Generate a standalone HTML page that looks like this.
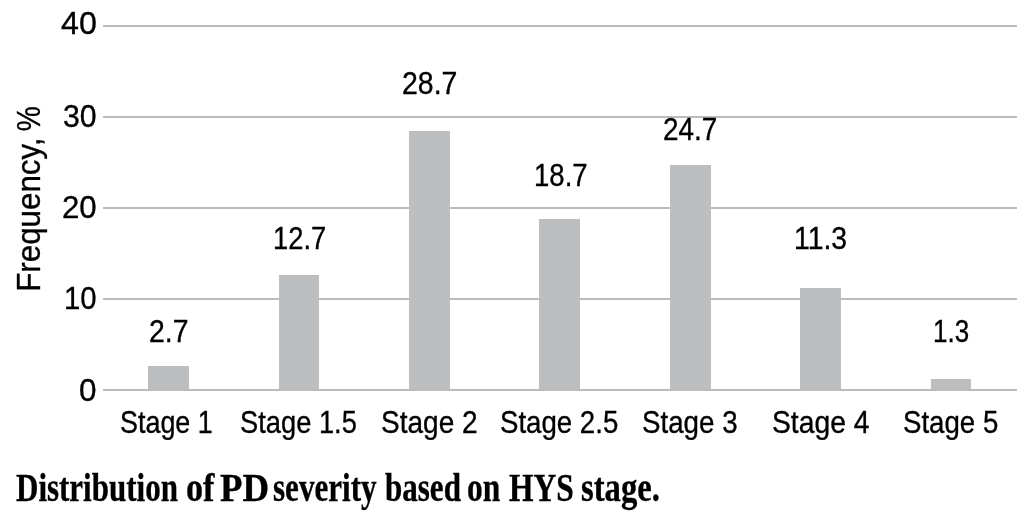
<!DOCTYPE html>
<html><head><meta charset="utf-8"><style>
html,body{margin:0;padding:0;background:#fff;width:1030px;height:518px;overflow:hidden;position:relative}
.t{position:absolute;line-height:1;white-space:nowrap;color:#000;transform-origin:0 0;-webkit-font-smoothing:antialiased;-webkit-text-stroke:0.35px #000}
#w{position:absolute;left:0;top:0;width:1030px;height:518px;background:#fff}
#tx{position:absolute;left:0;top:0;width:1030px;height:518px;filter:grayscale(1)}
.g{position:absolute;left:103px;width:914px;height:2px;background:#bbbbbb}
.bar{position:absolute;background:#bdbec0}
</style></head><body><div id="w">
<div class="g" style="top:25px"></div><div class="g" style="top:116px"></div><div class="g" style="top:207px"></div><div class="g" style="top:298px"></div><div class="g" style="top:389px"></div>
<div class="bar" style="left:148px;top:366px;width:41px;height:23px"></div><div class="bar" style="left:279px;top:275px;width:40px;height:114px"></div><div class="bar" style="left:409px;top:131px;width:41px;height:258px"></div><div class="bar" style="left:539px;top:219px;width:41px;height:170px"></div><div class="bar" style="left:670px;top:165px;width:41px;height:224px"></div><div class="bar" style="left:800px;top:288px;width:41px;height:101px"></div><div class="bar" style="left:931px;top:379px;width:40px;height:10px"></div>
<div id="tx"><div class="t" style="left:60.86px;top:8.00px;font-family:'Liberation Sans',sans-serif;font-weight:normal;font-size:31px;transform:scale(1.0375,1.0000);">40</div><div class="t" style="left:62.92px;top:101.00px;font-family:'Liberation Sans',sans-serif;font-weight:normal;font-size:31px;transform:scale(0.9750,1.0000);">30</div><div class="t" style="left:61.89px;top:192.00px;font-family:'Liberation Sans',sans-serif;font-weight:normal;font-size:31px;transform:scale(1.0065,1.0000);">20</div><div class="t" style="left:63.91px;top:283.00px;font-family:'Liberation Sans',sans-serif;font-weight:normal;font-size:31px;transform:scale(0.9452,1.0000);">10</div><div class="t" style="left:78.89px;top:375.00px;font-family:'Liberation Sans',sans-serif;font-weight:normal;font-size:31px;transform:scale(1.0133,1.0000);">0</div><div class="t" style="left:119.91px;top:406.57px;font-family:'Liberation Sans',sans-serif;font-weight:normal;font-size:30px;transform:scale(0.8970,1.0269);">Stage 1</div><div class="t" style="left:240.18px;top:406.57px;font-family:'Liberation Sans',sans-serif;font-weight:normal;font-size:30px;transform:scale(0.9096,1.0269);">Stage 1.5</div><div class="t" style="left:380.73px;top:406.57px;font-family:'Liberation Sans',sans-serif;font-weight:normal;font-size:30px;transform:scale(0.9340,1.0269);">Stage 2</div><div class="t" style="left:500.16px;top:406.57px;font-family:'Liberation Sans',sans-serif;font-weight:normal;font-size:30px;transform:scale(0.9208,1.0269);">Stage 2.5</div><div class="t" style="left:641.75px;top:406.57px;font-family:'Liberation Sans',sans-serif;font-weight:normal;font-size:30px;transform:scale(0.9240,1.0269);">Stage 3</div><div class="t" style="left:771.71px;top:406.57px;font-family:'Liberation Sans',sans-serif;font-weight:normal;font-size:30px;transform:scale(0.9426,1.0269);">Stage 4</div><div class="t" style="left:903.06px;top:406.57px;font-family:'Liberation Sans',sans-serif;font-weight:normal;font-size:30px;transform:scale(0.9210,1.0269);">Stage 5</div><div class="t" style="left:149.05px;top:315.50px;font-family:'Liberation Sans',sans-serif;font-weight:normal;font-size:30px;transform:scale(0.9462,1.0200);">2.7</div><div class="t" style="left:272.98px;top:222.50px;font-family:'Liberation Sans',sans-serif;font-weight:normal;font-size:30px;transform:scale(0.9109,1.0200);">12.7</div><div class="t" style="left:402.05px;top:67.50px;font-family:'Liberation Sans',sans-serif;font-weight:normal;font-size:30px;transform:scale(0.9482,1.0200);">28.7</div><div class="t" style="left:533.66px;top:159.50px;font-family:'Liberation Sans',sans-serif;font-weight:normal;font-size:30px;transform:scale(0.9182,1.0200);">18.7</div><div class="t" style="left:663.07px;top:113.50px;font-family:'Liberation Sans',sans-serif;font-weight:normal;font-size:30px;transform:scale(0.9286,1.0200);">24.7</div><div class="t" style="left:794.01px;top:222.50px;font-family:'Liberation Sans',sans-serif;font-weight:normal;font-size:30px;transform:scale(0.9453,1.0200);">11.3</div><div class="t" style="left:933.27px;top:315.50px;font-family:'Liberation Sans',sans-serif;font-weight:normal;font-size:30px;transform:scale(0.8658,1.0200);">1.3</div><div class="t" style="left:15.71px;top:468.00px;font-family:'Liberation Serif',serif;font-weight:bold;font-size:39px;transform:scale(0.7946,1.0000);">Distribution</div><div class="t" style="left:185.72px;top:468.00px;font-family:'Liberation Serif',serif;font-weight:bold;font-size:39px;transform:scale(0.8750,1.0000);">of</div><div class="t" style="left:219.76px;top:468.00px;font-family:'Liberation Serif',serif;font-weight:bold;font-size:39px;transform:scale(0.9449,1.0000);">PD</div><div class="t" style="left:273.00px;top:468.00px;font-family:'Liberation Serif',serif;font-weight:bold;font-size:39px;transform:scale(0.7969,1.0000);">severity</div><div class="t" style="left:384.50px;top:468.00px;font-family:'Liberation Serif',serif;font-weight:bold;font-size:39px;transform:scale(0.7958,1.0000);">based</div><div class="t" style="left:467.19px;top:468.00px;font-family:'Liberation Serif',serif;font-weight:bold;font-size:39px;transform:scale(0.8075,1.0000);">on</div><div class="t" style="left:509.09px;top:468.00px;font-family:'Liberation Serif',serif;font-weight:bold;font-size:39px;transform:scale(0.8077,1.0000);">HYS</div><div class="t" style="left:581.16px;top:468.00px;font-family:'Liberation Serif',serif;font-weight:bold;font-size:39px;transform:scale(0.8370,1.0000);">stage.</div>
<div class="t" style="left:0;top:0;font-family:'Liberation Sans',sans-serif;font-size:33px;transform-origin:0 0;transform:translate(12.00px,291.85px) rotate(-90deg) scaleX(0.9490);">Frequency,</div><div class="t" style="left:0;top:0;font-family:'Liberation Sans',sans-serif;font-size:33px;transform-origin:0 0;transform:translate(12.00px,131.25px) rotate(-90deg) scaleX(0.8519);">%</div></div>
</div></body></html>
